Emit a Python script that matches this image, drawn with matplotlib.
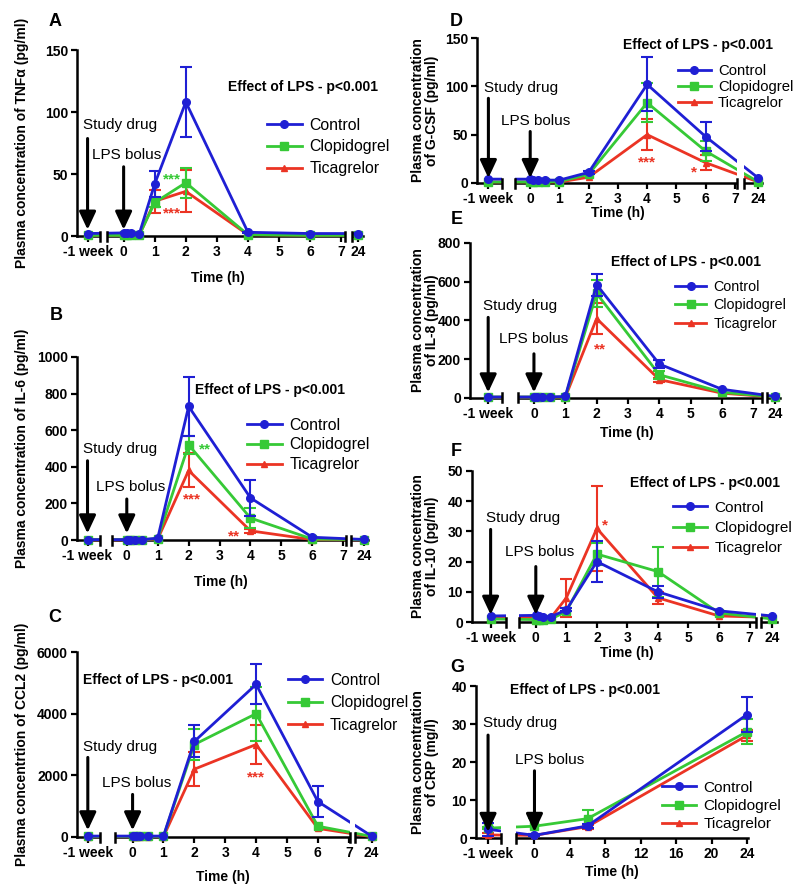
import numpy as np
import matplotlib.pyplot as plt
from matplotlib.lines import Line2D

plt.rcParams['font.family'] = ['Liberation Sans', 'DejaVu Sans']

BLUE = '#1f1fd4'
GREEN = '#36c936'
RED = '#eb3424'

# time points (h); -168 = one week before the LPS bolus
hours = [-168, 0, 0.1, 0.25, 0.5, 1, 2, 4, 6, 24]
crp_hours = [-168, 0, 6, 24]

# A - TNFa (pg/ml)
tnf_ctrl = [2, 2.5, 2.5, 2.5, 1.5, 42, 108, 3, 2, 2]
tnf_ctrl_sem = [0, 0, 0, 0, 0, 10.5, 28, 0.5, 0, 0]
tnf_clop = [0.5, 0.5, 0.5, 0.5, 0.5, 27, 43, 1, 0.5, 0.5]
tnf_clop_sem = [0, 0, 0, 0, 0, 4, 12, 0, 0, 0]
tnf_tica = [0.5, 0.5, 0.5, 0.5, 0.5, 28, 36, 1, 0.5, 0.5]
tnf_tica_sem = [0, 0, 0, 0, 0, 9.5, 17, 0, 0, 0]

# B - IL-6 (pg/ml)
il6_ctrl = [2, 2, 2, 2, 2, 10, 730, 230, 15, 3]
il6_ctrl_sem = [0, 0, 0, 0, 0, 0, 160, 100, 0, 0]
il6_clop = [2, 2, 2, 2, 2, 8, 520, 120, 5, 2]
il6_clop_sem = [0, 0, 0, 0, 0, 0, 50, 55, 0, 0]
il6_tica = [1, 1, 1, 1, 1, 5, 380, 50, 2, 1]
il6_tica_sem = [0, 0, 0, 0, 0, 0, 93, 12, 0, 0]

# C - CCL2 (pg/ml)
ccl2_ctrl = [30, 30, 30, 30, 30, 30, 3100, 4950, 1150, 30]
ccl2_ctrl_sem = [0, 0, 0, 0, 0, 0, 520, 650, 490, 0]
ccl2_clop = [20, 20, 20, 20, 20, 20, 3000, 4000, 350, 20]
ccl2_clop_sem = [0, 0, 0, 0, 0, 0, 500, 880, 0, 0]
ccl2_tica = [10, 10, 10, 10, 10, 10, 2200, 3000, 280, 10]
ccl2_tica_sem = [0, 0, 0, 0, 0, 0, 550, 640, 0, 0]

# D - G-CSF (pg/ml)
gcsf_ctrl = [4, 4, 3.5, 3, 3, 3, 11, 102, 48, 5]
gcsf_ctrl_sem = [0, 0, 0, 0, 0, 0, 1.5, 28, 15, 0]
gcsf_clop = [1, 1, 1, 1, 1, 1.5, 9, 83, 33, 1]
gcsf_clop_sem = [0, 0, 0, 0, 0, 0, 0, 20, 10, 0]
gcsf_tica = [1, 1, 1, 1, 1, 1, 6, 50, 21, 1]
gcsf_tica_sem = [0, 0, 0, 0, 0, 0, 0, 16, 7.5, 0]

# E - IL-8 (pg/ml)
il8_ctrl = [5, 5, 5, 5, 5, 8, 585, 175, 45, 8]
il8_ctrl_sem = [0, 0, 0, 0, 0, 0, 57, 20, 0, 0]
il8_clop = [5, 5, 5, 5, 5, 5, 540, 120, 30, 5]
il8_clop_sem = [0, 0, 0, 0, 0, 0, 70, 20, 0, 0]
il8_tica = [4, 4, 4, 4, 4, 4, 410, 95, 25, 4]
il8_tica_sem = [0, 0, 0, 0, 0, 0, 80, 10, 0, 0]

# F - IL-10 (pg/ml)
il10_ctrl = [2, 2.2, 2, 1.8, 1.8, 4, 20, 10, 3.7, 2]
il10_ctrl_sem = [0, 0, 0, 0, 0, 0.5, 6.8, 2, 0, 0]
il10_clop = [1, 0.8, 0.5, 0.5, 1, 3.5, 22.5, 16.7, 3, 1]
il10_clop_sem = [0, 0, 0, 0, 0, 0, 3.5, 8.3, 0, 0]
il10_tica = [1.5, 1.5, 1.2, 1.2, 1.5, 8, 31, 8, 2, 1.5]
il10_tica_sem = [0, 0, 0, 0, 0, 6.2, 14, 2, 0, 0]

# G - CRP (mg/l)
crp_ctrl = [2.3, 0.7, 3.2, 32.5]
crp_ctrl_sem = [1.7, 0.3, 0.5, 4.5]
crp_clop = [2.6, 3.1, 5.1, 28]
crp_clop_sem = [0.3, 2.2, 2.4, 3.3]
crp_tica = [0.8, 0.7, 3, 27]
crp_tica_sem = [0.5, 0.3, 0.5, 1.5]

# significance marks: (hour, value, text)
tnf_stars = [(1.55, 49, '***', GREEN), (1.55, 22, '***', RED)]
il6_stars = [(2.52, 518, '**', GREEN), (2.1, 245, '***', RED), (3.48, 45, '**', RED)]
ccl2_stars = [(4.0, 2060, '***', RED)]
gcsf_stars = [(4.0, 26, '***', RED), (5.6, 15, '*', RED)]
il8_stars = [(2.1, 274, '**', RED)]
il10_stars = [(2.25, 33.5, '*', RED)]
crp_stars = []

hour_ticks = [0, 1, 2, 3, 4, 5, 6, 7]
crp_ticks = [0, 4, 8, 12, 16, 20, 24]

W, H = 800, 893
fig = plt.figure(figsize=(W / 100, H / 100), dpi=100)


def fpt(x, y):
    return x / W, 1 - y / H


panels = [
    dict(letter='A', t=hours, ctrl=tnf_ctrl, ctrl_sem=tnf_ctrl_sem, clop=tnf_clop, clop_sem=tnf_clop_sem,
         tica=tnf_tica, tica_sem=tnf_tica_sem, stars=tnf_stars, yticks=[0, 50, 100, 150],
         ylabel='Plasma concentration of TNFα (pg/ml)', box=(77, 50, 363, 236), xlim=(-1.5, 7.7),
         wk=-1.16, p24=7.55, gaps=[(-0.77, -0.55), (7.13, 7.35)],
         study=(0.595, 0.524, 0.034), lps=(0.435, 0.372, 0.034), lps_dx=-23,
         leg=(267, 125, 11.4, 0.43), effect=(228, 87), lab=(55, 21), ylab_x=22, xlab=(218, 278)),
    dict(letter='B', t=hours, ctrl=il6_ctrl, ctrl_sem=il6_ctrl_sem, clop=il6_clop, clop_sem=il6_clop_sem,
         tica=il6_tica, tica_sem=il6_tica_sem, stars=il6_stars, yticks=[0, 200, 400, 600, 800, 1000],
         ylabel='Plasma concentration of IL-6 (pg/ml)', box=(77, 357, 368, 540), xlim=(-1.61, 7.8),
         wk=-1.27, p24=7.67, gaps=[(-0.86, -0.48), (7.1, 7.26)],
         study=(0.496, 0.433, 0.036), lps=(0.29, 0.224, 0.036), lps_dx=-22,
         leg=(247, 425, 11.4, 0.30), effect=(195, 390), lab=(56, 316), ylab_x=22, xlab=(221, 582)),
    dict(letter='C', t=hours, ctrl=ccl2_ctrl, ctrl_sem=ccl2_ctrl_sem, clop=ccl2_clop, clop_sem=ccl2_clop_sem,
         tica=ccl2_tica, tica_sem=ccl2_tica_sem, stars=ccl2_stars, yticks=[0, 2000, 4000, 6000],
         ylabel='Plasma concentrtion of CCL2 (pg/ml)', box=(77, 652, 375, 837), xlim=(-1.8, 7.85),
         wk=-1.45, p24=7.74, gaps=[(-1.05, -0.56), (7.04, 7.2)],
         study=(0.488, 0.43, 0.036), lps=(0.293, 0.23, 0.036), lps_dx=-22,
         leg=(288, 680, 11.2, 0.48), effect=(83, 680), lab=(55, 617), ylab_x=22, xlab=(223, 877)),
    dict(letter='D', t=hours, ctrl=gcsf_ctrl, ctrl_sem=gcsf_ctrl_sem, clop=gcsf_clop, clop_sem=gcsf_clop_sem,
         tica=gcsf_tica, tica_sem=gcsf_tica_sem, stars=gcsf_stars, yticks=[0, 50, 100, 150],
         ylabel='Plasma concentration\nof G-CSF (pg/ml)', box=(477, 38, 762, 183), xlim=(-1.82, 7.93),
         wk=-1.43, p24=7.81, gaps=[(-0.97, -0.51), (7.07, 7.3)],
         study=(0.652, 0.584, 0.034), lps=(0.43, 0.355, 0.034), lps_dx=-21,
         leg=(678, 71, 10.7, 0.14), effect=(623, 45), lab=(456, 21), ylab_x=425, xlab=(618, 213)),
    dict(letter='E', t=hours, ctrl=il8_ctrl, ctrl_sem=il8_ctrl_sem, clop=il8_clop, clop_sem=il8_clop_sem,
         tica=il8_tica, tica_sem=il8_tica_sem, stars=il8_stars, yticks=[0, 200, 400, 600, 800],
         ylabel='Plasma concentration\nof IL-8 (pg/ml)', box=(470, 243, 780, 398), xlim=(-2.04, 7.85),
         wk=-1.46, p24=7.69, gaps=[(-1.03, -0.5), (7.27, 7.43)],
         study=(0.593, 0.52, 0.036), lps=(0.379, 0.285, 0.036), lps_dx=-25,
         leg=(675, 287, 10.3, 0.29), effect=(611, 262), lab=(457, 219), ylab_x=425, xlab=(627, 433)),
    dict(letter='F', t=hours, ctrl=il10_ctrl, ctrl_sem=il10_ctrl_sem, clop=il10_clop, clop_sem=il10_clop_sem,
         tica=il10_tica, tica_sem=il10_tica_sem, stars=il10_stars, yticks=[0, 10, 20, 30, 40, 50],
         ylabel='Plasma concentration\nof IL-10 (pg/ml)', box=(472, 471, 777, 622), xlim=(-2.09, 7.9),
         wk=-1.48, p24=7.75, gaps=[(-0.99, -0.55), (7.2, 7.36)],
         study=(0.686, 0.613, 0.048), lps=(0.466, 0.367, 0.048), lps_dx=-22,
         leg=(673, 508, 11.1, 0.40), effect=(630, 483), lab=(456, 451), ylab_x=425, xlab=(627, 653)),
    dict(letter='G', t=crp_hours, ctrl=crp_ctrl, ctrl_sem=crp_ctrl_sem, clop=crp_clop, clop_sem=crp_clop_sem,
         tica=crp_tica, tica_sem=crp_tica_sem, stars=crp_stars, yticks=[0, 10, 20, 30, 40],
         ylabel='Plasma concentration\nof CRP (mg/l)', box=(476, 686, 748, 838), xlim=(-6.6, 24.1),
         wk=-5.24, p24=None, gaps=[(-3.75, -2.06)],
         study=(0.754, 0.677, 0.04), lps=(0.516, 0.442, 0.04), lps_dx=-14,
         leg=(662, 788, 11.1, 0.27), effect=(510, 690), lab=(457, 667), ylab_x=425, xlab=(612, 872)),
]


def xmap(t, p):
    t = np.asarray(t, float)
    x = np.where(t < 0, p['wk'], t)
    if p['p24'] is not None:
        x = np.where(t > 7, p['p24'], x)
    return x


for p in panels:
    x0, y0, x1, y1 = p['box']
    ax = fig.add_axes([x0 / W, 1 - y1 / H, (x1 - x0) / W, (y1 - y0) / H])
    ax_h = y1 - y0
    for sp in ['top', 'right']:
        ax.spines[sp].set_visible(False)
    for sp in ['left', 'bottom']:
        ax.spines[sp].set_linewidth(1.8)
    ax.set_xlim(*p['xlim'])
    ax.set_ylim(0, p['yticks'][-1])

    x = xmap(p['t'], p)
    series = [(p['tica'], p['tica_sem'], RED, '^'),
              (p['clop'], p['clop_sem'], GREEN, 's'),
              (p['ctrl'], p['ctrl_sem'], BLUE, 'o')]
    for vals, sem, col, mk in series:
        vals = np.asarray(vals, float)
        sem = np.asarray(sem, float)
        ax.plot(x, vals, color=col, lw=2, marker=mk, ms=5.5 if mk != '^' else 5,
                clip_on=False, zorder=3)
        m = sem > 0
        ax.errorbar(x[m], vals[m], yerr=sem[m], fmt='none', ecolor=col, elinewidth=1.5,
                    capsize=4, capthick=1.5, clip_on=False, zorder=3)

    # axis breaks
    tk = 4.5 / ax_h
    for g0, g1 in p['gaps']:
        ax.axvspan(g0, g1, ymin=-0.05, ymax=1, color='white', zorder=4, clip_on=False, lw=0)
        for g in (g0, g1):
            ax.plot([g, g], [-tk, tk], transform=ax.get_xaxis_transform(), color='k', lw=1.8,
                    clip_on=False, zorder=5)

    # ticks
    if p['p24'] is not None:
        xt = [p['wk']] + hour_ticks + [p['p24']]
        xl = ['-1 week'] + [str(h) for h in hour_ticks] + ['24']
    else:
        xt = [p['wk']] + crp_ticks
        xl = ['-1 week'] + [str(h) for h in crp_ticks]
    ax.set_xticks(xt)
    ax.set_xticklabels(xl, fontsize=10, fontweight='bold')
    ax.set_yticks(p['yticks'])
    ax.set_yticklabels([str(v) for v in p['yticks']], fontsize=10, fontweight='bold')
    ax.tick_params(axis='both', direction='out', length=4, width=1.6, pad=2.5)

    # labels
    ax.set_ylabel(p['ylabel'], fontsize=10, fontweight='bold', va='center', linespacing=1.0)
    ax.yaxis.set_label_coords(p['ylab_x'] / W, 1 - (y0 + y1) / 2 / H, transform=fig.transFigure)
    ax.set_xlabel('Time (h)', fontsize=10, fontweight='bold', va='center')
    ax.xaxis.set_label_coords(*fpt(*p['xlab']), transform=fig.transFigure)
    fig.text(*fpt(*p['lab']), p['letter'], fontsize=13, fontweight='bold', ha='center', va='center')
    ax.text(*fpt(*p['effect']), 'Effect of LPS - p<0.001', transform=fig.transFigure,
            fontsize=10, fontweight='bold', ha='left', va='center', zorder=10)

    # arrows for study drug and LPS bolus
    xtr = ax.get_xaxis_transform()
    aprops = dict(arrowstyle='-|>,head_width=0.28,head_length=0.6', mutation_scale=18,
                  lw=2.2, color='black', shrinkA=0, shrinkB=0)
    for xa, (ty, ys, ye), txt, dx in [(p['wk'], p['study'], 'Study drug', -3.5),
                                      (0, p['lps'], 'LPS bolus', p['lps_dx'])]:
        ax.annotate('', xy=(xa, ye), xytext=(xa, ys), xycoords=xtr, arrowprops=aprops, zorder=10)
        ax.annotate(txt, xy=(xa, ty), xycoords=xtr, xytext=(dx, 0), textcoords='offset points',
                    ha='left', va='center', fontsize=11, zorder=10)

    # significance
    for sh, sv, st, sc in p['stars']:
        ax.annotate(st, xy=(sh, sv), xytext=(0, -6), textcoords='offset points', color=sc,
                    fontsize=11, fontweight='bold', ha='center', va='baseline', zorder=10)

    # legend
    lx, ly, lfs, lsp = p['leg']
    handles = [Line2D([], [], color=BLUE, lw=2, marker='o', ms=5.5),
               Line2D([], [], color=GREEN, lw=2, marker='s', ms=5.5),
               Line2D([], [], color=RED, lw=2, marker='^', ms=5)]
    em = lfs * 100 / 72
    leg = ax.legend(handles, ['Control', 'Clopidogrel', 'Ticagrelor'], loc='upper left',
                    bbox_to_anchor=fpt(lx, ly - 0.47 * em), bbox_transform=fig.transFigure,
                    frameon=False, fontsize=lfs, borderpad=0, borderaxespad=0,
                    handlelength=2.2, handletextpad=0.5, labelspacing=lsp)
    leg.set_zorder(10)

fig.savefig('out.png', dpi=100)
